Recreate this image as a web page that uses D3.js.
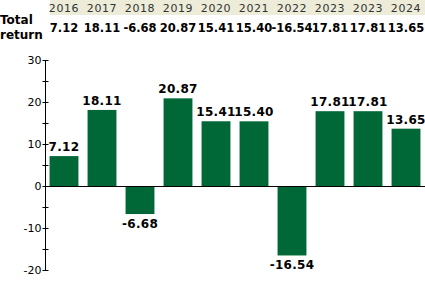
<!DOCTYPE html>
<meta charset="utf-8">
<script src="https://d3js.org/d3.v7.min.js"></script>
<style>
  body { margin: 0; background: #fff; }
  text { font-family: "DejaVu Sans", Verdana, sans-serif; }
</style>
<div id="chart"></div>
<script>

// data
var years = ["2016", "2017", "2018", "2019", "2020", "2021", "2022", "2023", "2023", "2024"];
var totalReturn = [7.12, 18.11, -6.68, 20.87, 15.41, 15.40, -16.54, 17.81, 17.81, 13.65];
var yTicks = [30, 20, 10, 0, -10, -20];

var width = 425, height = 288;

var svg = d3.select("#chart")
  .append("svg")
    .attr("width", width)
    .attr("height", height);

var x = d3.scaleBand()
    .domain(d3.range(years.length))
    .range([45, 425])
    .paddingInner(0.24)
    .paddingOuter(0.12);

var y = d3.scaleLinear()
    .domain([-20, 30])
    .range([270, 60]);

// header band with the years
svg.append("rect")
    .attr("x", 50)
    .attr("y", 0)
    .attr("width", 375)
    .attr("height", 15)
    .style("fill", "#ececd9");

svg.selectAll(".year")
    .data(years)
    .enter()
    .append("text")
      .attr("class", "year")
      .attr("x", function(d, i) { return x(i) + x.bandwidth() / 2; })
      .attr("y", 12)
      .attr("text-anchor", "middle")
      .style("font-size", "11px")
      .style("letter-spacing", "0.6px")
      .style("fill", "#333")
      .text(function(d) { return d; });

svg.append("text")
    .attr("x", 0)
    .attr("y", 24)
    .style("font-size", "12px")
    .style("font-weight", "bold")
    .text("Total");
svg.append("text")
    .attr("x", 0)
    .attr("y", 39)
    .style("font-size", "12px")
    .style("font-weight", "bold")
    .text("return");

// header values: tight, like the reference (they nearly touch there too)
svg.selectAll(".val")
    .data(totalReturn)
    .enter()
    .append("text")
      .attr("class", "val")
      .attr("x", function(d, i) { return x(i) + x.bandwidth() / 2; })
      .attr("y", 32)
      .attr("text-anchor", "middle")
      .style("font-size", "11.5px")
      .style("font-weight", "bold")
      .text(function(d) { return d.toFixed(2); });

// bars
svg.selectAll(".bar")
    .data(totalReturn)
    .enter()
    .append("rect")
      .attr("class", "bar")
      .attr("x", function(d, i) { return x(i); })
      .attr("y", function(d) { return y(Math.max(0, d)); })
      .attr("width", x.bandwidth())
      .attr("height", function(d) { return Math.abs(y(d) - y(0)); })
      .style("fill", "#006837");

// labels on bars
svg.selectAll(".lab")
    .data(totalReturn)
    .enter()
    .append("text")
      .attr("class", "lab")
      .attr("x", function(d, i) { return x(i) + x.bandwidth() / 2; })
      .attr("y", function(d) { return d >= 0 ? y(d) - 5 : y(d) + 14; })
      .attr("text-anchor", "middle")
      .style("font-size", "12px")
      .style("font-weight", "bold")
      .style("letter-spacing", "0.3px")
      .text(function(d) { return d.toFixed(2); });

// y axis, ticks crossing the line, minor ticks every 5
var axis = svg.append("g")
    .attr("transform", "translate(45.5,0)")
    .call(d3.axisLeft(y).tickValues(d3.range(-20, 31, 5)).tickSize(3).tickFormat(function(d) {
      return yTicks.indexOf(d) >= 0 ? d : "";
    }));
axis.select(".domain").attr("d", "M0," + y(30) + "V" + y(-20));
axis.selectAll(".tick line").attr("x1", 3).attr("x2", -3);
axis.selectAll(".tick text")
    .attr("x", -4)
    .style("font-size", "11px")
    .style("font-family", "'DejaVu Sans', Verdana, sans-serif")
    .style("fill", "#000");

// zero line
svg.append("line")
    .attr("x1", 45)
    .attr("x2", 425)
    .attr("y1", y(0) + 0.5)
    .attr("y2", y(0) + 0.5)
    .style("stroke", "#000");

</script>
